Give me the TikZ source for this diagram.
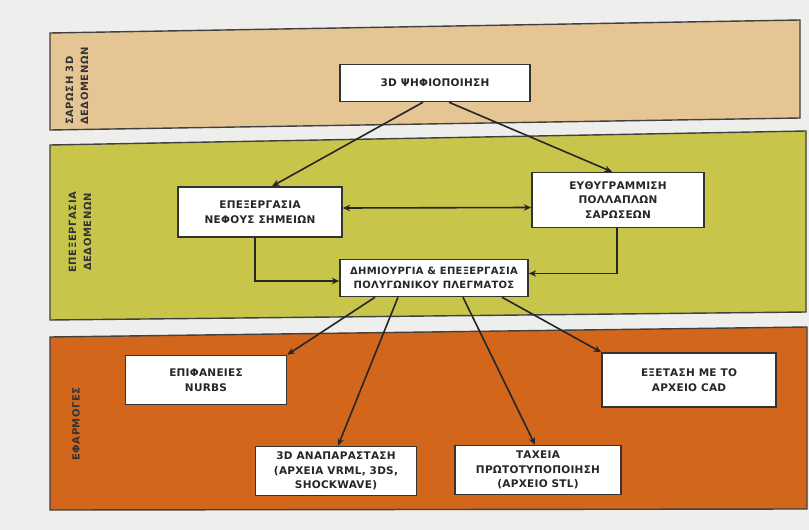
\documentclass[tikz,border=0pt]{standalone}
\usepackage{fontspec}
\setmainfont{DejaVu Sans}
\usetikzlibrary{arrows.meta}
\definecolor{pagebg}{HTML}{EEEEEC}
\definecolor{bandA}{HTML}{E6C594}
\definecolor{bandB}{HTML}{C8C64A}
\definecolor{bandC}{HTML}{D2671C}
\begin{document}
\begin{tikzpicture}[x=1pt,y=-1pt,
  band/.style={draw=black!75,line width=1.4pt},
  box/.style={draw=black!80,fill=white,line width=1.5pt,align=center,text=black!85,
    font=\bfseries\fontsize{10.5}{14.5}\selectfont\addfontfeature{LetterSpace=2.5},inner sep=0pt},
  arr/.style={draw=black!85,line width=1.6pt,-{Stealth[length=7.5pt,width=6.5pt]}},
  darr/.style={draw=black!85,line width=1.6pt,{Stealth[length=7.5pt,width=6.5pt]}-{Stealth[length=7.5pt,width=6.5pt]}},
  side/.style={rotate=90,text=black!80,inner sep=0pt,
    font=\bfseries\fontsize{10}{15}\selectfont\addfontfeature{LetterSpace=6}}
]
\fill[pagebg] (0,0) rectangle (809,530);
\useasboundingbox (0,0) rectangle (809,530);

% bands
\filldraw[band,fill=bandA] (50,33) -- (800,20) -- (800,118) -- (50,130) -- cycle;
\filldraw[band,fill=bandB] (50,145) -- (806,131) -- (806,312) -- (50,320) -- cycle;
\filldraw[band,fill=bandC] (50,337) -- (807,327) -- (807,509) -- (50,510) -- cycle;

% side labels
\node[side,align=left,anchor=west] (lA) at (77,125) {ΣΑΡΩΣΗ 3D\\ΔΕΔΟΜΕΝΩΝ};
\node[side,align=center] (lB) at (80,232) {ΕΠΕΞΕΡΓΑΣΙΑ\\ΔΕΔΟΜΕΝΩΝ};
\node[side] (lC) at (76,424) {ΕΦΑΡΜΟΓΕΣ};

% boxes
\node[box,minimum width=190,minimum height=37] (dig) at (435,83) {3D ΨΗΦΙΟΠΟΙΗΣΗ};
\node[box,minimum width=164,minimum height=50] (pep) at (260,212) {ΕΠΕΞΕΡΓΑΣΙΑ\\ΝΕΦΟΥΣ ΣΗΜΕΙΩΝ};
\node[box,minimum width=172,minimum height=55] (euth) at (618,200) {ΕΥΘΥΓΡΑΜΜΙΣΗ\\ΠΟΛΛΑΠΛΩΝ\\ΣΑΡΩΣΕΩΝ};
\node[box,minimum width=188,minimum height=37,
  font=\bfseries\fontsize{10}{14}\selectfont\addfontfeature{LetterSpace=3}] (dhm) at (434,278) {ΔΗΜΙΟΥΡΓΙΑ \& ΕΠΕΞΕΡΓΑΣΙΑ\\ΠΟΛΥΓΩΝΙΚΟΥ ΠΛΕΓΜΑΤΟΣ};
\node[box,minimum width=161,minimum height=49] (nurbs) at (206,380) {ΕΠΙΦΑΝΕΙΕΣ\\NURBS};
\node[box,minimum width=161,minimum height=49] (anap) at (336,471) {3D ΑΝΑΠΑΡΑΣΤΑΣΗ\\(ΑΡΧΕΙΑ VRML, 3DS,\\SHOCKWAVE)};
\node[box,minimum width=166,minimum height=49] (tax) at (538,470) {ΤΑΧΕΙΑ\\ΠΡΩΤΟΤΥΠΟΠΟΙΗΣΗ\\(ΑΡΧΕΙΟ STL)};
\node[box,minimum width=174,minimum height=54] (cad) at (689,380) {ΕΞΕΤΑΣΗ ΜΕ ΤΟ\\ΑΡΧΕΙΟ CAD};

% connectors
\draw[arr] ([xshift=-12]dig.south) -- ([xshift=12]pep.north);
\draw[arr] ([xshift=14]dig.south) -- ([xshift=-6]euth.north);
\draw[darr] ([yshift=4]pep.east) -- ([yshift=-7.5]euth.west);
\draw[arr] ([xshift=-5]pep.south) |- ([yshift=-3]dhm.west);
\draw[arr] ([xshift=-1]euth.south) |- ([yshift=4.5]dhm.east);
\draw[arr] ([xshift=-59]dhm.south) -- (nurbs.north east);
\draw[arr] ([xshift=-36]dhm.south) -- ([xshift=2]anap.north);
\draw[arr] ([xshift=29]dhm.south) -- ([xshift=-3]tax.north);
\draw[arr] ([xshift=68]dhm.south) -- (cad.north west);
\end{tikzpicture}
\end{document}
